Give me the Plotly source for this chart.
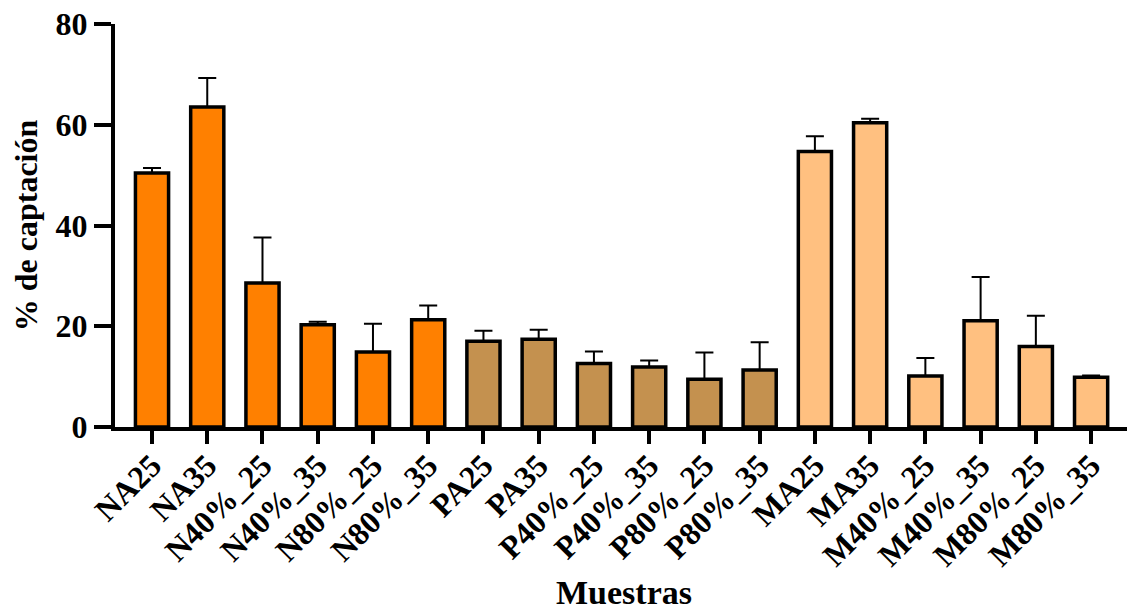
import plotly.graph_objects as go

# Samples and their uptake percentage (mean) with upper error (SD)
muestras = ["NA25", "NA35", "N40%_25", "N40%_35", "N80%_25", "N80%_35",
            "PA25", "PA35", "P40%_25", "P40%_35", "P80%_25", "P80%_35",
            "MA25", "MA35", "M40%_25", "M40%_35", "M80%_25", "M80%_35"]
captacion = [50.4, 63.5, 28.6, 20.3, 14.9, 21.3,
             17.0, 17.4, 12.6, 11.9, 9.5, 11.3,
             54.7, 60.4, 10.1, 21.1, 16.0, 9.9]
desviacion = [1.0, 5.8, 9.0, 0.6, 5.6, 2.8,
              2.1, 1.9, 2.4, 1.3, 5.3, 5.5,
              3.0, 0.8, 3.6, 8.7, 6.1, 0.3]
grupo = ["N"] * 6 + ["P"] * 6 + ["M"] * 6

colores_grupo = {"N": "#FF8000", "P": "#C4914F", "M": "#FFC080"}
colores = [colores_grupo[g] for g in grupo]

FONT = "Liberation Serif"

fig = go.Figure(
    go.Bar(
        x=muestras,
        y=captacion,
        width=0.6,
        marker=dict(color=colores, line=dict(color="black", width=3.5)),
        error_y=dict(
            type="data",
            symmetric=False,
            array=desviacion,
            arrayminus=[0] * len(desviacion),
            color="black",
            thickness=2,
            width=9,
        ),
    )
)

fig.update_layout(
    width=1127,
    height=613,
    margin=dict(l=115, r=0, t=24, b=186),
    plot_bgcolor="white",
    paper_bgcolor="white",
    showlegend=False,
    font=dict(family=FONT, color="black"),
    annotations=[
        dict(
            text="Muestras",
            xref="paper", yref="paper",
            x=0.503, y=0,
            xanchor="center", yanchor="middle",
            yshift=-165,
            showarrow=False,
            font=dict(family=FONT, size=34, weight="bold", color="black"),
        )
    ],
)

fig.update_xaxes(
    type="category",
    range=[-0.67, 17.65],
    showline=True,
    linecolor="black",
    linewidth=4,
    ticks="outside",
    ticklen=13,
    tickwidth=4,
    tickcolor="black",
    tickangle=-45,
    ticklabelstandoff=-10,
    tickfont=dict(family=FONT, size=32, weight="bold", color="black"),
    showgrid=False,
)

fig.update_yaxes(
    range=[0, 80],
    tickvals=[0, 20, 40, 60, 80],
    showline=True,
    linecolor="black",
    linewidth=4,
    ticks="outside",
    ticklen=17,
    tickwidth=4,
    tickcolor="black",
    tickfont=dict(family=FONT, size=32, weight="bold", color="black"),
    showgrid=False,
    zeroline=False,
    title=dict(text="% de captación", font=dict(family=FONT, size=32, weight="bold"), standoff=9),
)

fig.write_html("out.html")
